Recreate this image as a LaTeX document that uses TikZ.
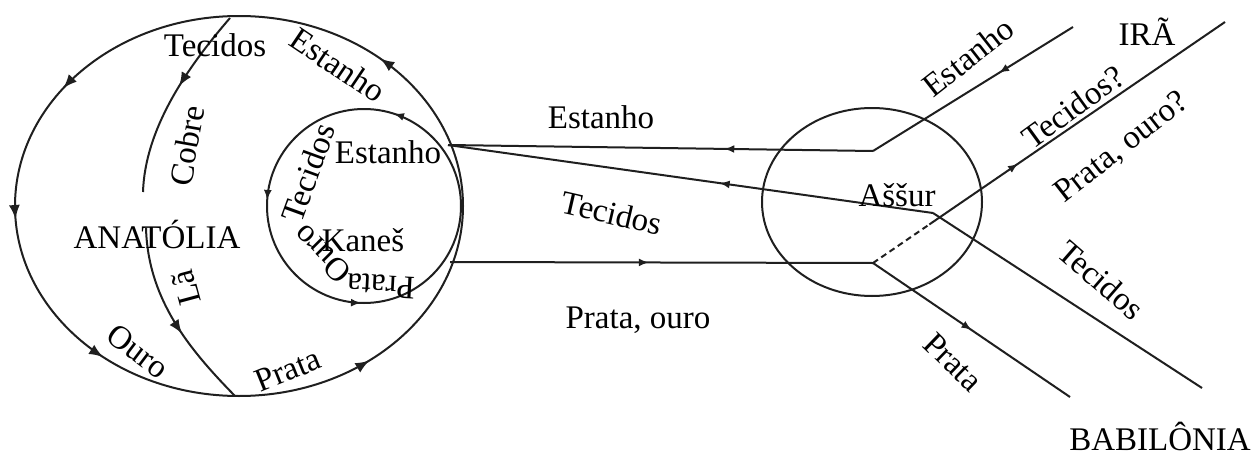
\documentclass[tikz,border=0pt]{standalone}
\usepackage{fontspec}
\setmainfont{Liberation Serif}
\usetikzlibrary{arrows.meta,decorations.markings,calc}
\tikzset{
  ln/.style={line width=2pt, black!88},
  tipbig/.tip={Latex[length=14pt,width=11pt]},
  tipsm/.tip={Latex[length=10pt,width=8pt]},
  arr/.style={postaction={decorate,decoration={markings,mark=at position #1 with {\arrow{tipsm}}}}},
  arrb/.style={postaction={decorate,decoration={markings,mark=at position #1 with {\arrow{tipbig}}}}},
  lbl/.style={font=\fontsize{33}{38}\selectfont, inner sep=0pt},
}
\begin{document}
\begin{tikzpicture}[x=1pt,y=-1pt]
\useasboundingbox (0,0) rectangle (1256,455);
% coordinates
\coordinate (A1) at (448,145);
\coordinate (A2) at (450,262);
\coordinate (C1) at (873,151);
\coordinate (C2) at (873,263);
\coordinate (B) at (933,213);
\coordinate (IE) at (1073,27);
\coordinate (IT) at (1225,22);
\coordinate (BT) at (1202,388);
\coordinate (BP) at (1070,397);
\coordinate (D) at ($(C2)!0.16!(IT)$);
\coordinate (OR) at (463,206);
\coordinate (KR) at (461,206);
\coordinate (T1) at (230,18);
\coordinate (T2) at (143,192);
\coordinate (L1) at (146,228);
\coordinate (L2) at (235,396);
% Anatolia ellipse
\draw[ln, postaction={decorate,decoration={markings,
   mark=at position 0.135 with {\arrow{tipbig}},
   mark=at position 0.40 with {\arrow{tipbig}},
   mark=at position 0.51 with {\arrow{tipbig}},
   mark=at position 0.64 with {\arrow{tipbig}},
   mark=at position 0.855 with {\arrow{tipbig}}}}]
  (OR) arc[start angle=0,end angle=360,x radius=224pt,y radius=190pt];
% Kanes circle
\draw[ln, postaction={decorate,decoration={markings,
   mark=at position 0.2 with {\arrow{tipsm}},
   mark=at position 0.49 with {\arrow{tipsm}},
   mark=at position 0.745 with {\arrow{tipsm}}}}]
  (KR) arc[start angle=0,end angle=360,radius=97pt];
% inner curves
\draw[ln, arrb=0.43] (T1) .. controls (185,70) and (145,130) .. (T2);
\draw[ln, arrb=0.58] (L1) .. controls (148,300) and (190,350) .. (L2);
% Assur
\draw[ln] (872,202) ellipse [x radius=110pt, y radius=94pt];
% routes
\draw[ln, arr=0.37] (IE) -- (C1);
\draw[ln, arr=0.35] (C1) -- (A1);
\draw[ln] (BT) -- (B);
\draw[ln, arr=0.44] (B) -- (A1);
\draw[ln, arr=0.47] (A2) -- (C2);
\draw[ln, arr=0.5] (C2) -- (BP);
\draw[ln, dashed, dash pattern=on 6pt off 4pt] (C2) -- (D);
\draw[ln, arr=0.3] (D) -- (IT);
% labels
\node[lbl, rotate=-34] (l1) at (338,65) {Estanho};
\node[lbl] (l2) at (215,45) {Tecidos};
\node[lbl, rotate=80] (l3) at (187,146) {Cobre};
\node[lbl] (l4) at (157,234) {ANATÓLIA};
\node[lbl, rotate=105] (l5) at (186,288) {Lã};
\node[lbl, rotate=-37] (l6) at (138,351) {Ouro};
\node[lbl, rotate=22] (l7) at (288,370) {Prata};
\node[lbl] (l8) at (388,152) {Estanho};
\node[lbl, rotate=70] (l9) at (308,173) {Tecidos};
\node[lbl] (l10) at (363,240) {Kaneš};
\node[lbl, rotate=135] (l11) at (322,254) {Ouro};
\node[lbl, rotate=177] (l12) at (381,286) {Prata};
\node[lbl] (l13) at (601,117) {Estanho};
\node[lbl, rotate=-13] (l14) at (612,213) {Tecidos};
\node[lbl] (l15) at (638,320) {Prata, ouro};
\node[lbl, rotate=38] (l16) at (968,57) {Estanho};
\node[lbl] (l17) at (1147,32) {IRÃ};
\node[lbl, rotate=36] (l18) at (1073,107) {Tecidos?};
\node[lbl, rotate=38] (l19) at (1122,148) {Prata, ouro?};
\node[lbl] (l20) at (897,195) {Aššur};
\node[lbl, rotate=-41] (l21) at (1101,280) {Tecidos};
\node[lbl, rotate=-44] (l22) at (953,362) {Prata};
\node[lbl] (l23) at (1160,436) {BABILÔNIA};
\end{tikzpicture}
\end{document}
